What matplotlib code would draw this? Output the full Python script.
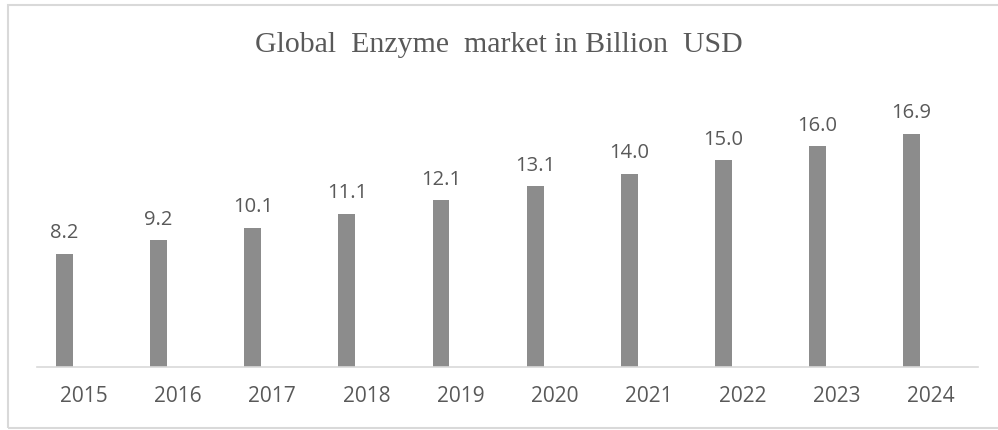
import matplotlib.pyplot as plt
import numpy as np
from matplotlib.patches import Rectangle

years = ["2015", "2016", "2017", "2018", "2019", "2020", "2021", "2022", "2023", "2024"]
market = [8.2, 9.2, 10.1, 11.1, 12.1, 13.1, 14.0, 15.0, 16.0, 16.9]
title = "Global  Enzyme  market in Billion  USD"

text_color = "#595959"
bar_color = "#8c8c8c"
line_color = "#d9d9d9"

fig = plt.figure(figsize=(9.98, 4.30), dpi=100)
ax = fig.add_axes([37 / 998, 1 - 367 / 430, 941 / 998, (367 - 91) / 430])

# outer chart frame (right edge runs off the canvas)
fig.patches.append(Rectangle((8 / 998, 1 - 428 / 430), 1.0, 423 / 430,
                             transform=fig.transFigure, fill=False,
                             edgecolor=line_color, linewidth=1.5))

x = np.arange(len(years))
offset = -0.207
bars = ax.bar(x + offset, market, width=0.18, color=bar_color)

for xi, v in zip(x, market):
    ax.text(xi + offset, v + 0.75, f"{v:.1f}", ha="center", va="bottom",
            fontsize=14.5, color=text_color, family="Open Sans")

ax.set_xlim(-0.5, len(years) - 0.5)
ax.set_ylim(0, 20)
ax.set_xticks(x)
ax.set_xticklabels(years, fontsize=15, color=text_color, family="Open Sans")
ax.tick_params(axis="x", length=0, pad=14)
ax.set_yticks([])
for side in ["top", "right", "left"]:
    ax.spines[side].set_visible(False)
ax.spines["bottom"].set_color(line_color)
ax.spines["bottom"].set_linewidth(1.2)

fig.text(0.5, 1 - 45 / 430, title, ha="center", va="center", fontsize=21.5,
         color=text_color, family="Liberation Serif")

fig.savefig("out.png", dpi=100)
